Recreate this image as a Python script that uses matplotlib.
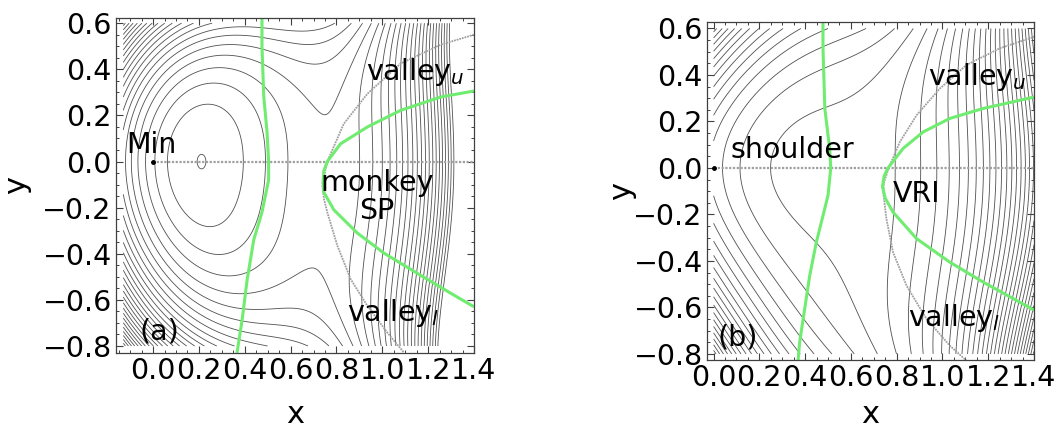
import numpy as np
import matplotlib.pyplot as plt
from matplotlib.ticker import MultipleLocator

# --- model surfaces --------------------------------------------------------
# (a) minimum + monkey saddle: f'(x) = -(x - xm)(x - xs)
xm_a, xs_a = 0.211, 0.76
k1_a, k3_a = 0.149, 0.11       # y^2 coefficient g(u) = k1 u + k3 u^3, u = xs - x
h_a, d_a = 0.05, 0.1           # y^3 and y^4 coefficients
step_a, base_a = 0.007025, 0.0001
n_levels_a = (-16, 60)
grid_x_a = (-0.13, 1.4)

# (b) shoulder + valley-ridge inflection: f'(x) = -((x - x0)^2 + eps)
x0_b, eps_b, xv_b = 0.5, 0.0, 0.765
k1_b, k3_b = 0.151, 0.495
h_b, d_b = 0.0725, 0.1
step_b, base_b = 0.0137, 0.00527
n_levels_b = (-45, 45)
grid_x_b = (0.0, 1.4)

grid_y = (-0.8, 0.6)

# --- curves (green: zero curvature, gray: valley lines) --
green_vert_a_x = [0.475, 0.475, 0.483, 0.497, 0.504, 0.504, 0.475, 0.439, 0.41, 0.388, 0.366]
green_vert_a_y = [0.64, 0.5, 0.28, 0.13, 0.0, -0.08, -0.22, -0.34, -0.515, -0.69, -0.83]
green_par_a_x = [1.40, 1.255, 1.08, 0.935, 0.818, 0.76, 0.745, 0.742, 0.745, 0.789, 0.891,
                 1.007, 1.153, 1.30, 1.40]
green_par_a_y = [0.306, 0.28, 0.222, 0.15, 0.077, 0.0, -0.04, -0.085, -0.133, -0.21, -0.31,
                 -0.397, -0.485, -0.572, -0.63]
gray_par_a_x = [1.40, 1.255, 1.08, 0.935, 0.832, 0.76, 0.738, 0.745, 0.76, 0.804, 0.862,
                0.935, 1.022, 1.095]
gray_par_a_y = [0.55, 0.507, 0.425, 0.294, 0.164, 0.0, -0.1, -0.16, -0.22, -0.365, -0.51,
                -0.626, -0.742, -0.829]

green_vert_b_x = [0.478, 0.478, 0.486, 0.507, 0.512, 0.50, 0.471, 0.449, 0.42, 0.398, 0.376, 0.369]
green_vert_b_y = [0.64, 0.515, 0.256, 0.084, 0.0, -0.118, -0.233, -0.319, -0.463, -0.606, -0.75, -0.83]
green_par_b_x = [1.404, 1.324, 1.178, 1.032, 0.916, 0.828, 0.762, 0.745, 0.738, 0.75, 0.784,
                 0.887, 1.032, 1.178, 1.324, 1.404]
green_par_b_y = [0.306, 0.288, 0.256, 0.213, 0.155, 0.084, 0.0, -0.035, -0.08, -0.13, -0.19,
                 -0.304, -0.405, -0.491, -0.57, -0.613]
gray_par_b_x = [1.404, 1.251, 1.105, 0.989, 0.887, 0.814, 0.767, 0.745, 0.741, 0.755, 0.784,
                0.843, 0.93, 1.032, 1.105]
gray_par_b_y = [0.565, 0.515, 0.443, 0.342, 0.227, 0.112, 0.004, -0.06, -0.103, -0.218, -0.362,
                -0.506, -0.649, -0.764, -0.829]

ridge_x = [0.0, 1.4]
ridge_y = [0.0, 0.0]


def pot_a(x, y):
    s = x - xm_a
    D = xs_a - xm_a
    u = xs_a - x
    f = D * s**2 / 2 - s**3 / 3
    g = k1_a * u + k3_a * u**3
    return f + g * y**2 + h_a * y**3 + d_a * y**4


def pot_b(x, y):
    s = x - x0_b
    u = xv_b - x
    f = -(s**3 / 3 + eps_b * s)
    g = k1_b * u + k3_b * u**3
    return f + g * y**2 + h_b * y**3 + d_b * y**4


def draw_panel(ax, pot, gx, base, step, nrange, curves, labels, tag, xlim, ylim, pads):
    X, Y = np.meshgrid(np.linspace(gx[0], gx[1], 500), np.linspace(grid_y[0], grid_y[1], 500))
    Z = pot(X, Y)
    levels = base + step * np.arange(nrange[0], nrange[1])
    ax.contour(X, Y, Z, levels=levels, colors='#505050', linewidths=0.6, linestyles='solid')

    ax.plot(ridge_x, ridge_y, color='#a0a0a0', lw=1.6, ls=(0, (1, 0.7)))
    gray_x, gray_y, green_curves = curves
    ax.plot(gray_x, gray_y, color='#a0a0a0', lw=1.3, ls=(0, (1, 0.5)))
    for cx, cy in green_curves:
        ax.plot(cx, cy, color='#70ec70', lw=2.2, solid_capstyle='butt')
    ax.plot([0], [0], 'o', color='black', ms=2.5)

    for txt, (tx, ty), ha in labels:
        ax.text(tx, ty, txt, fontsize=20.5, ha=ha, va='baseline')
    ax.text(tag[1][0], tag[1][1], tag[0], fontsize=20.5, va='baseline')

    ax.set_xlim(*xlim)
    ax.set_ylim(*ylim)
    ax.xaxis.set_major_locator(MultipleLocator(0.2))
    ax.yaxis.set_major_locator(MultipleLocator(0.2))
    ax.xaxis.set_minor_locator(MultipleLocator(0.05))
    ax.yaxis.set_minor_locator(MultipleLocator(0.05))
    ax.xaxis.set_major_formatter(lambda v, p: f'{v:.1f}'.replace('-', '\u2212'))
    ax.yaxis.set_major_formatter(lambda v, p: f'{v:.1f}'.replace('-', '\u2212'))
    ax.tick_params(which='both', direction='in', top=True, right=True, color='#404040',
                   labelsize=20.5, pad=3)
    ax.tick_params(which='major', length=5, width=0.8)
    ax.tick_params(which='minor', length=2.5, width=0.7)
    for sp in ax.spines.values():
        sp.set_color('#404040')
        sp.set_linewidth(0.9)
    ax.set_xlabel('x', fontsize=22, labelpad=pads[0])
    ax.set_ylabel('y', fontsize=22, labelpad=pads[1])


fig = plt.figure(figsize=(10.62, 4.32), dpi=100)
ax_a = fig.add_axes([0.1092, 0.1836, 0.3371, 0.7755])
ax_b = fig.add_axes([0.6657, 0.1667, 0.3079, 0.7824])

draw_panel(ax_a, pot_a, grid_x_a, base_a, step_a, n_levels_a,
           (gray_par_a_x, gray_par_a_y,
            [(green_vert_a_x, green_vert_a_y), (green_par_a_x, green_par_a_y)]),
           [('Min', (-0.118, 0.038), 'left'),
            ('valley$_u$', (0.93, 0.355), 'left'),
            ('monkey', (0.977, -0.127), 'center'),
            ('SP', (0.977, -0.25), 'center'),
            ('valley$_l$', (0.845, -0.69), 'left')],
           ('(a)', (-0.06, -0.77)), (-0.162, 1.40), (-0.829, 0.624), (11, 8))

draw_panel(ax_b, pot_b, grid_x_b, base_b, step_b, n_levels_b,
           (gray_par_b_x, gray_par_b_y,
            [(green_vert_b_x, green_vert_b_y), (green_par_b_x, green_par_b_y)]),
           [('shoulder', (0.075, 0.045), 'left'),
            ('VRI', (0.785, -0.147), 'left'),
            ('valley$_u$', (0.935, 0.356), 'left'),
            ('valley$_l$', (0.85, -0.68), 'left')],
           ('(b)', (0.015, -0.765)), (-0.029, 1.40), (-0.826, 0.628), (6, -2))

fig.savefig('out.png', dpi=100)
